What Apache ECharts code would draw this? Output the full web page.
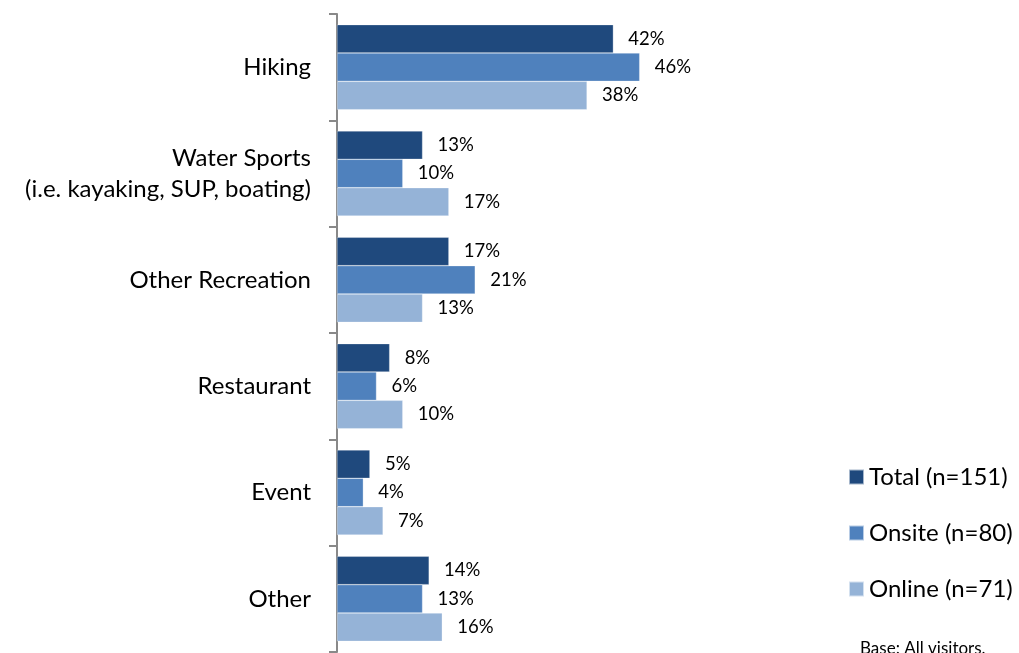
<!DOCTYPE html>
<html>
<head>
<meta charset="utf-8">
<script src="https://cdn.jsdelivr.net/npm/echarts@6/dist/echarts.min.js"></script>
<style>
  html, body { margin: 0; padding: 0; background: #ffffff; }
  #chart { width: 1019px; height: 653px; }
</style>
</head>
<body>
<div id="chart"></div>
<script>
// Activity categories, top to bottom
const categories = [
  'Hiking',
  'Water Sports\n(i.e. kayaking, SUP, boating)',
  'Other Recreation',
  'Restaurant',
  'Event',
  'Other'
];

// Share of visitors (%) per respondent group
const seriesNames = ['Total (n=151)', 'Onsite (n=80)', 'Online (n=71)'];
const totalValues  = [42, 13, 17, 8, 5, 14];
const onsiteValues = [46, 10, 21, 6, 4, 13];
const onlineValues = [38, 17, 13, 10, 7, 16];

const colors = ['#1F497D', '#4F81BD', '#95B3D7'];
const fontFamily = 'Lato, "Open Sans", sans-serif';

const chart = echarts.init(document.getElementById('chart'), null, { renderer: 'canvas' });

function barSeries(name, data, color) {
  return {
    name: name,
    type: 'bar',
    data: data,
    barGap: '0%',
    barCategoryGap: '20%',
    itemStyle: { color: color, borderColor: 'rgba(255,255,255,0.6)', borderWidth: 0.5 },
    label: {
      show: true,
      position: 'right',
      distance: 15,
      formatter: '{c}%',
      color: '#000',
      fontFamily: fontFamily,
      fontSize: 18.5
    }
  };
}

chart.setOption({
  animation: false,
  color: colors,
  textStyle: { fontFamily: fontFamily },
  grid: { left: 337, right: 353, top: 14, bottom: 1, containLabel: false },
  xAxis: {
    type: 'value',
    min: 0,
    max: 50,
    show: false
  },
  yAxis: {
    type: 'category',
    inverse: true,
    data: categories,
    axisLine: { show: true, lineStyle: { color: '#898989', width: 2 } },
    axisTick: { show: true, length: 8, inside: false, lineStyle: { color: '#898989', width: 2 } },
    axisLabel: {
      color: '#000',
      fontFamily: fontFamily,
      fontSize: 24,
      lineHeight: 31,
      margin: 26,
      align: 'right'
    },
    splitLine: { show: false }
  },
  legend: {
    orient: 'vertical',
    left: 848,
    top: 463,
    padding: 0,
    itemWidth: 15,
    itemHeight: 15,
    itemGap: 28,
    itemTextGap: 6,
    icon: 'rect',
    data: seriesNames,
    textStyle: { color: '#000', fontFamily: fontFamily, fontSize: 24, lineHeight: 28 }
  },
  graphic: [{
    type: 'text',
    left: 860,
    top: 640,
    style: { text: 'Base: All visitors.', fill: '#000', font: '17px ' + fontFamily }
  }],
  series: [
    barSeries(seriesNames[0], totalValues, colors[0]),
    barSeries(seriesNames[1], onsiteValues, colors[1]),
    barSeries(seriesNames[2], onlineValues, colors[2])
  ]
});
</script>
</body>
</html>
